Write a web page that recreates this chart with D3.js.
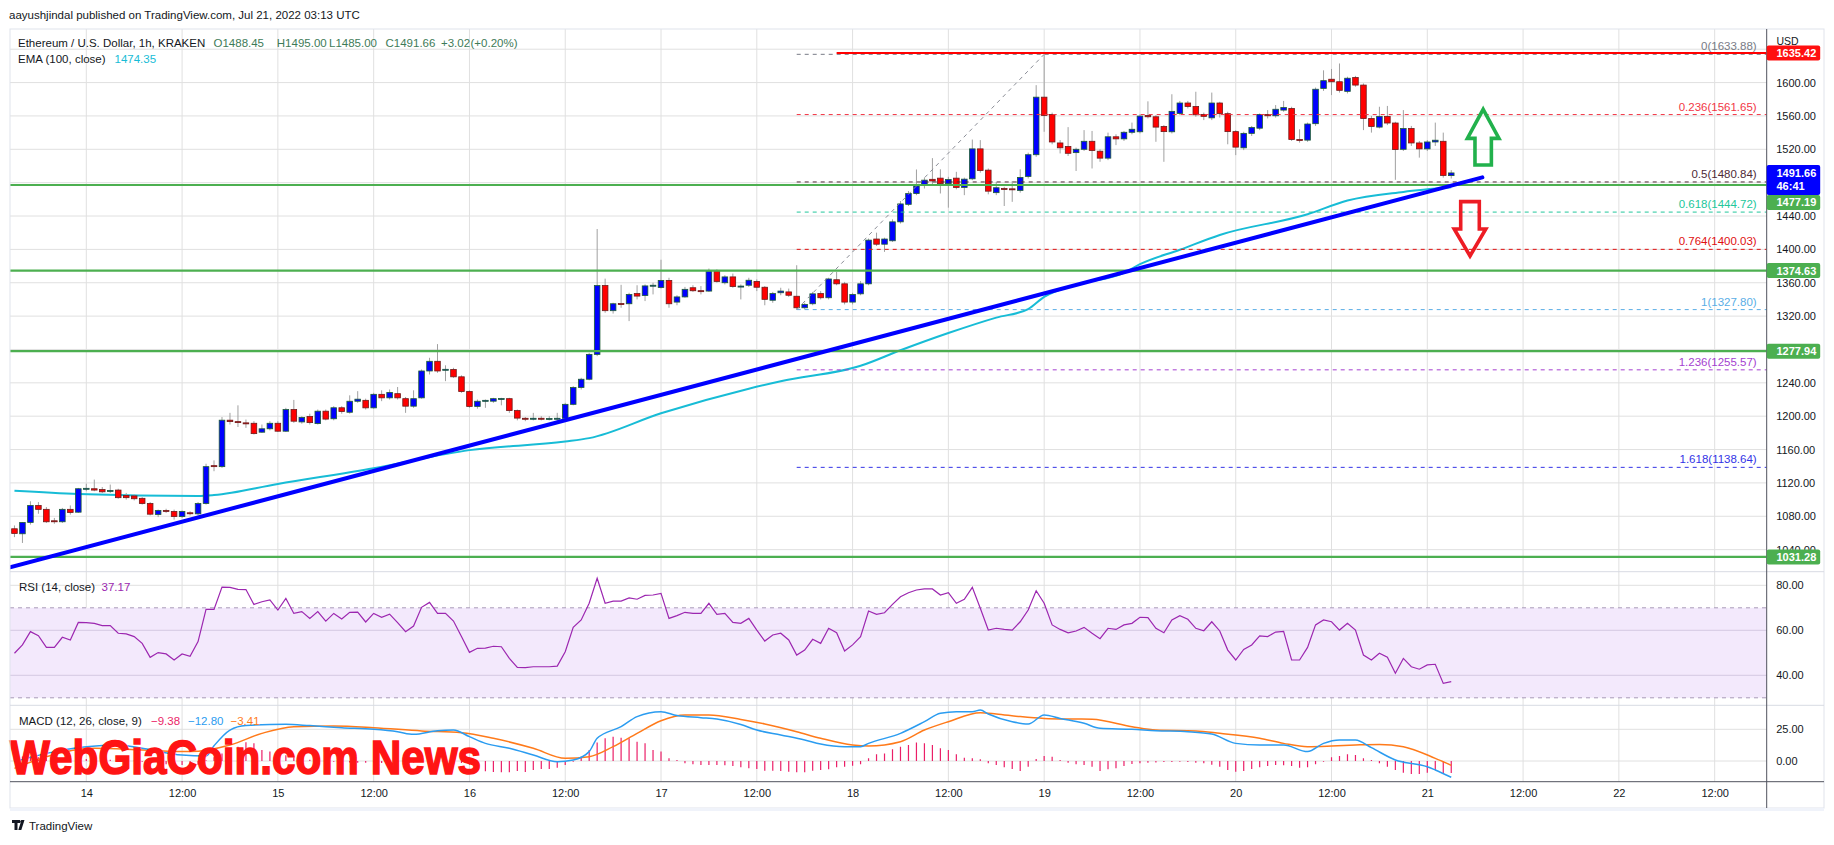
<!DOCTYPE html>
<html><head><meta charset="utf-8">
<script src="https://cdnjs.cloudflare.com/ajax/libs/d3/7.8.5/d3.min.js"></script>
<style>
body{margin:0;background:#fff}
svg{display:block}
text{font-family:"Liberation Sans",Arimo,Arial,sans-serif}
</style>
</head><body>
<svg id="c" width="1834" height="845"></svg>
<script>
// ---------------- DATA ----------------
// hourly candles, first one = 2022-07-13 15:00 UTC
const candleStartUTC = [2022, 6, 13, 15];
const opens = [
1065,1059,1072.6,1093,1088.3,1074.6,1073.4,1088.3,1084.9,1113,
1113,1112,1110,1111.4,1105,1104.4,1101.5,1095.3,1082.1,1087,
1085.8,1079.6,1084.2,1082.9,1095.3,1140.7,1139.5,1195.2,1193.5,1192,
1191.5,1180.8,1184.9,1191.5,1182,1208,1193.1,1199.7,1191.1,1206,
1196.9,1210.1,1204.7,1217.9,1219,1210,1226.2,1222,1227,1221,
1212,1222,1254.2,1265.8,1256,1256,1247.2,1229.5,1211.7,1218,
1218,1221,1221,1206.7,1197.5,1197,1197.5,1197,1197.3,1197.5,
1214.2,1234.4,1244.3,1274.1,1356.6,1326.5,1335,1334.8,1347,1344.6,
1356.2,1354.2,1362.8,1336.8,1343,1354,1350.5,1350,1374,1360,
1367,1355,1357,1361.6,1354.6,1339,1348,1349,1343.8,1330,
1334.8,1347,1342,1363.6,1358.7,1336.8,1346.7,1358.7,1412.4,1406.2,
1410.3,1433,1454,1466.9,1477.2,1484,1485.4,1478.8,1485.4,1474.3,
1484.6,1520.5,1495,1468,1473,1472.6,1470.6,1487.5,1513.5,1582.5,
1561.8,1527.6,1523.4,1516,1520,1529.6,1517.7,1509.4,1535,1532.5,
1540.4,1541,1560.6,1559,1547.4,1541,1563,1575.5,1571.3,1561.8,
1557.7,1575.5,1562.7,1541.2,1521.8,1539.1,1545.3,1561.8,1560.2,1567,
1568.9,1531.7,1531,1550.7,1593,1604,1601,1589.5,1606,1597,
1556.9,1546.6,1559.4,1551.5,1520,1544.9,1527.6,1520.5,1528.8,1529.6,1488.45];
const highs = [
1069,1073,1098,1097,1091,1078,1090,1093,1114,1119,
1124,1115,1118,1113,1108,1106,1103,1097,1088,1089,
1088,1087,1086,1097,1143,1147,1199,1204,1213,1196,
1194,1190,1194,1194,1210,1219.5,1200,1203,1208,1208,
1212,1212,1225,1230,1221,1228,1231,1232,1235,1223,
1231,1256,1270,1286.4,1261,1258,1249,1231,1220,1220,
1222,1222,1222,1208,1199,1204,1200,1200,1204,1216,
1236,1246,1276,1424.4,1364.9,1336,1357.5,1348,1357,1358,
1360,1387.6,1366,1345,1355,1357,1356,1377,1376,1369,
1371,1358,1366,1364,1356,1349,1354,1353,1381,1336,
1349,1350,1366,1373,1361,1348,1362,1413,1420,1414,
1436,1458,1470,1495.8,1486,1509.4,1496,1487,1493,1486,
1531.7,1531,1497,1481,1475,1482,1496,1516,1596.9,1633.88,
1564,1531,1546.6,1522,1543,1542,1520,1540,1538,1542,
1552,1562,1577.5,1561,1549,1586,1578,1578,1589,1564,
1588,1577,1565,1543,1541,1548,1563,1567,1573,1578,
1571,1544,1552,1594,1614.7,1616.3,1622.9,1607,1608,1599,
1560,1571,1572,1553,1567,1548,1530,1531,1552,1540,1495];
const lows = [
1055,1048,1070,1083,1072,1071,1072,1082,1084,1110,
1110,1108,1108,1101,1100,1099,1094,1081,1079,1084,
1076,1078,1081,1081,1094,1134,1138,1190,1187,1186,
1178,1180,1183,1181,1181,1192,1191,1190,1190,1195,
1195,1203,1203,1216,1208,1209,1218,1220,1220,1204,
1210,1221,1250,1252,1242,1246,1228,1210,1209,1210,
1216,1213,1204,1195,1194,1195,1195,1195,1194,1196,
1213,1232,1243,1272,1324,1323,1330,1314,1340,1338,
1346,1353,1330,1333,1342,1349,1346,1349,1360,1358,
1354,1340,1355,1350,1333,1336,1345,1343,1327.8,1328,
1333,1340,1340,1357,1334,1334,1345,1357,1404,1397,
1409,1431,1452,1465,1473,1478,1467,1450,1472,1465,
1483,1492,1466,1465,1452,1457,1468,1485,1511,1541,
1526,1515,1512,1494,1518,1497,1505,1507,1525,1530,
1538,1539,1557,1529,1505,1539,1561,1569,1559,1555,
1555,1558,1526,1513,1519,1536,1543,1557,1558,1565,
1530,1528,1529,1548,1590,1585,1588,1587,1595,1543,
1540,1545,1549,1483.4,1518,1524,1510,1518,1524,1486,1485];
const closes = [
1059.4,1072.6,1093,1088.3,1073.4,1073.5,1088.3,1084.5,1113,1113.5,
1111.4,1109.3,1111,1102.3,1102.3,1101,1095.3,1082.5,1087,1086,
1079.6,1085.8,1083.4,1095.3,1139.5,1139.8,1195.2,1193.5,1192.3,1191.9,
1179.1,1184.9,1191.5,1182,1208,1194,1198.5,1192.3,1206,1196.5,
1210.1,1205.5,1217.9,1220.4,1210,1226.2,1222,1228.5,1222,1212,
1221,1254.2,1265.8,1254.2,1256.2,1247.2,1229.5,1211.7,1217.9,1219,
1221,1221.2,1206.7,1197.7,1197,1197.5,1197,1197.3,1197.5,1214.2,
1234.4,1244.3,1274.1,1356.6,1326.5,1334.8,1334,1345.9,1344,1356.2,
1357,1362.8,1334.8,1343,1352.1,1350.4,1349.5,1374,1361.6,1367,
1355.4,1356,1363,1354.6,1340.1,1347,1350,1345,1330,1334,
1346.7,1342,1364.5,1358.7,1336.8,1345.9,1358.7,1411.1,1406.2,1412.4,
1433,1454.5,1466.9,1476,1483,1482,1478.8,1483.8,1474.3,1484.2,
1520.5,1494.5,1469.8,1473.9,1472.6,1471.8,1486.3,1513.5,1582.5,1560.6,
1528.8,1521.8,1515.2,1520,1529.6,1518.5,1509.4,1535,1532.5,1540.4,
1544,1559.8,1559,1546.6,1541.2,1565.5,1575.5,1571.3,1561.4,1559.5,
1575.5,1562.7,1541.2,1522.6,1539.1,1546.1,1561.8,1560.2,1568,1570,
1531.7,1531.3,1550.3,1592,1602.3,1601,1590.7,1605.2,1597,1556.9,
1547.4,1559.4,1551.5,1519.7,1544.9,1527.6,1520.5,1528.8,1530.9,1488.7,1491.66];

// EMA(100) read at sample candles (candle index)
const emaIdx    = [0,8,23,25,33,45,57,69,72,81,92,96,106,111,117,123,127,129,133,139,141,146,151,162,167,174,180];
const emaValues = [1110.6,1106.8,1104.4,1105.5,1118.8,1137.6,1159.3,1169.6,1173.7,1203.5,1233.0,1241.9,1260.4,1279.0,1299.7,1318.2,1328.5,1343.0,1357.5,1372.0,1382.2,1399.6,1417.3,1442.1,1458.6,1468.9,1474.35];

// RSI(14), one value per candle
const rsiValues = [
49.8,53.5,59.4,57.6,52.4,52.4,56.9,55.7,63.5,63.4,
63.1,62.1,62.1,58.7,58.4,57.2,54.2,48.0,50.1,49.5,
46.8,49.5,48.4,55.0,69.3,69.3,79.2,79.1,78.2,78.1,
71.5,72.7,73.5,69.0,74.2,67.5,68.3,65.3,68.3,64.1,
67.5,65.0,68.0,68.1,63.7,67.5,65.8,67.2,63.4,59.4,
61.9,70.2,72.4,67.5,67.5,64.1,57.2,50.2,52.0,52.1,
52.9,52.7,47.5,43.5,43.4,43.8,43.8,43.8,44.1,50.5,
61.3,64.6,72.0,83.1,72.0,73.0,73.0,74.4,73.8,75.5,
75.7,76.4,65.3,66.5,68.0,67.5,67.5,72.0,67.1,67.5,
63.5,63.1,65.3,60.1,55.2,57.9,58.7,55.7,49.0,51.2,
56.0,54.2,60.9,58.9,50.8,53.5,57.2,68.6,67.1,67.8,
71.5,74.9,76.7,77.9,78.4,78.4,75.7,76.7,72.0,73.8,
79.1,69.8,60.1,60.9,60.4,60.1,63.8,69.0,77.6,72.0,
62.4,60.4,58.9,59.7,61.3,58.7,56.3,60.9,60.4,62.4,
63.1,65.8,65.6,60.9,58.9,64.6,66.5,64.9,60.9,59.8,
63.8,59.7,51.2,46.8,51.5,53.5,57.5,57.2,59.2,59.5,
46.8,46.8,52.4,62.4,64.6,63.8,60.1,63.1,60.1,49.0,
46.8,49.8,48.0,40.9,47.5,43.8,42.7,44.6,44.9,36.4,37.17];

// MACD(12,26,9) lines read at sample candles
const macdIdx    = [0,4,9,13,16,21,24,25,27,29,34,37,41,45,48,50,53,55,57,59,62,65,68,70,72,73,76,78,81,83,86,88,91,93,96,99,101,104,106,107,111,114,116,118,120,121,122,125,127,129,131,134,136,140,143,147,150,153,156,159,162,164,166,168,170,173,177,178,180];
const macdValues = [-0.5,6.0,11.3,12.6,10.0,4.7,4.0,12.0,24.4,28.0,28.9,27.9,26.3,25.0,23.1,21.0,23.9,24.4,19.2,13.9,10.0,4.7,-0.5,0.8,7.4,17.9,27.1,35.0,38.9,35.8,34.2,33.1,28.8,24.4,20.5,16.6,13.4,11.3,11.3,13.9,21.8,31.0,37.6,38.9,38.9,40.2,37.1,31.0,29.2,36.3,33.6,29.7,25.8,25.0,23.9,23.1,21.3,13.9,12.6,12.6,7.4,13.9,16.6,16.6,10.5,0.8,-4.5,-7.1,-12.80];
const signalIdx    = [0,4,10,16,22,27,31,35,40,45,51,56,60,65,69,72,75,78,81,84,87,91,94,98,101,105,107,111,114,117,121,123,126,129,133,135,140,143,148,151,156,159,162,165,168,171,174,178,180];
const signalValues = [-5.8,3.4,10.0,8.7,7.4,12.6,21.8,27.1,27.6,26.3,23.7,22.3,17.9,10.0,2.1,3.4,11.3,21.8,31.8,36.3,36.3,32.8,29.2,23.1,17.9,12.6,11.8,15.2,24.4,31.0,38.1,37.1,35.0,33.6,33.1,32.9,27.1,24.4,23.7,21.8,17.9,13.9,11.3,11.8,12.6,13.1,11.3,2.1,-3.41];
const histValues = [
4.0,3.5,3.5,3.0,2.5,2.2,2.0,1.5,2.0,1.5,
1.5,1.2,1.0,0.8,0.5,0.2,-0.5,-1.5,-2.0,-2.5,
-3.0,-3.2,-3.5,-3.0,0.5,3.0,6.0,8.7,11.3,14.7,
13.9,8.7,7.4,5.5,4.5,3.0,2.0,1.0,0.5,0.0,
-0.5,-1.0,-1.2,-1.3,-1.3,-1.3,-1.5,-1.0,-1.0,-1.3,
-1.2,0.3,1.0,0.8,1.0,0.3,-1.5,-3.0,-6.5,-8.0,
-8.7,-8.9,-8.9,-7.9,-8.7,-7.1,-6.3,-6.3,-5.3,-3.2,
-0.5,3.4,8.7,14.5,17.9,19.2,18.4,17.9,15.2,13.9,
8.7,7.4,2.1,0.8,-1.8,-2.6,-3.2,-3.2,-3.2,-3.4,
-3.9,-5.0,-5.8,-6.3,-7.6,-7.6,-7.9,-8.4,-8.9,-8.9,
-7.6,-7.1,-6.6,-5.0,-4.5,-3.7,-2.6,2.1,5.3,6.0,
9.2,11.3,12.6,14.5,13.9,12.6,10.0,8.7,5.3,2.6,
2.1,1.3,-1.8,-3.2,-5.0,-6.3,-7.9,-4.5,1.6,3.9,
3.4,0.8,-1.3,-2.6,-3.2,-4.5,-7.9,-6.6,-5.8,-3.9,
-2.4,-1.8,-1.3,-1.1,-0.8,-0.8,-0.5,-0.8,-1.3,-1.8,
-2.9,-4.5,-7.1,-8.4,-7.9,-6.3,-5.0,-3.9,-3.2,-3.4,
-3.9,-5.3,-5.0,-2.6,-0.5,2.9,3.9,5.3,4.7,2.1,
0.8,-1.8,-4.5,-7.1,-9.2,-10.3,-10.3,-9.2,-7.1,-9.7,-9.38];

// axis ticks (1480 sits under the last-price tag in the reference, so it is not shown)
const priceTicks = [1040,1080,1120,1160,1200,1240,1280,1320,1360,1400,1440,1520,1560,1600];
const priceGrid  = [1040,1080,1120,1160,1200,1240,1280,1320,1360,1400,1440,1480,1520,1560,1600,1640];
const rsiTicks = [40,60,80];
const rsiBand = [70,30];
const macdTicks = [0,25];

// drawings
const supportLevels = [1477.19,1374.63,1277.94,1031.28];
const resistanceLevels = [1635.42];
const resistanceStartIdx = 103;
const fibRatios = ["0","0.236","0.5","0.618","0.764","1","1.236","1.618"];
const fibPrices = [1633.88,1561.65,1480.84,1444.72,1400.03,1327.80,1255.57,1138.64];
const fibColors = ["#787b86","#f23645","#4e2a36","#22c79b","#e01010","#5aaee6","#a43fd0","#3333e6"];
const fibAnchorIdx = [98,129];
const trendIdx = [-0.56,183.9];
const trendPrices = [1018.9,1486.3];
const arrowIdx = [184.0,182.35];
const arrowBase = [1501.2,1457.2];
const arrowTip = [1567.9,1392.1];
const arrowColors = ["#22b14c","#ed1c24"];
const lastPrice = 1491.66, countdown = "46:41";

// ---------------- DRAWING ----------------
const svg = d3.select("#c");
const FONT = '"Liberation Sans",Arimo,Arial,sans-serif';
const T0 = Date.UTC(...candleStartUTC);
const tAt = i => new Date(T0 + i*3600e3);
const L=10, R=1766.7, FR=1824, mainTop=29, mainBot=571.7, rsiBot=705.3, macdBot=781.7, axisBot=808;

const x = d3.scaleUtc().domain([new Date(Date.UTC(2022,6,14)), new Date(Date.UTC(2022,6,21))]).range([86.3,1427.3]);
const y = d3.scaleLinear().domain([1031.28,1477.19]).range([556.9,185.0]);
const yR = d3.scaleLinear().domain([40,80]).range([675.3,585.3]);
const yM = d3.scaleLinear().domain([0,25]).range([761,729.3]);

const defs = svg.append("defs");
function clip(id,y0,y1){defs.append("clipPath").attr("id",id).append("rect").attr("x",L).attr("y",y0).attr("width",R-L).attr("height",y1-y0);}
clip("cMain",mainTop,mainBot); clip("cRsi",mainBot,rsiBot); clip("cMacd",rsiBot,macdBot);

svg.append("rect").attr("width",1834).attr("height",845).attr("fill","#fff");

// header
svg.append("text").attr("x",9).attr("y",15).attr("dominant-baseline","central")
  .attr("font-size",11.5).attr("fill","#131722")
  .text("aayushjindal published on TradingView.com, Jul 21, 2022 03:13 UTC");

// time ticks
const timeTicks = d3.utcHour.range(new Date(Date.UTC(2022,6,14)), new Date(Date.UTC(2022,6,22,13)), 12);

// grid
const grid = svg.append("g").attr("stroke","#e0e0e0").attr("stroke-width",1);
grid.selectAll("line.v").data(timeTicks).join("line")
  .attr("x1",d=>x(d)).attr("x2",d=>x(d)).attr("y1",mainTop).attr("y2",macdBot);
grid.selectAll("line.h").data(priceGrid).join("line")
  .attr("x1",L).attr("x2",R).attr("y1",d=>y(d)).attr("y2",d=>y(d));

// RSI band
const rsiG = svg.append("g");
rsiG.append("rect").attr("x",L).attr("width",R-L).attr("y",yR(rsiBand[0])).attr("height",yR(rsiBand[1])-yR(rsiBand[0])).attr("fill","#f3e9fc");
rsiG.selectAll("line.g").data(rsiTicks).join("line").attr("x1",L).attr("x2",R)
  .attr("y1",d=>yR(d)).attr("y2",d=>yR(d)).attr("stroke",d=>d===80?"#e0e0e0":"#d4c8e2");
rsiG.selectAll("line.b").data(rsiBand).join("line").attr("x1",L).attr("x2",R)
  .attr("y1",d=>yR(d)).attr("y2",d=>yR(d)).attr("stroke","#a99bb8").attr("stroke-dasharray","4,4");
// MACD grid
svg.append("g").selectAll("line").data(macdTicks).join("line").attr("x1",L).attr("x2",R)
  .attr("y1",d=>yM(d)).attr("y2",d=>yM(d)).attr("stroke","#e0e0e0");

// ---- main pane
const main = svg.append("g").attr("clip-path","url(#cMain)");
// EMA
main.append("path").datum(emaIdx.map((d,i)=>[d,emaValues[i]]))
  .attr("d",d3.line().x(d=>x(tAt(d[0]))).y(d=>y(d[1])).curve(d3.curveMonotoneX))
  .attr("fill","none").attr("stroke","#17bcd6").attr("stroke-width",2);

// candles
const cw = 5.6;
const cg = main.append("g");
closes.forEach((c,i)=>{
  const o=opens[i], h=highs[i], l=lows[i], cx=x(tAt(i));
  const up = c>=o;
  cg.append("line").attr("x1",cx).attr("x2",cx).attr("y1",y(h)).attr("y2",y(l)).attr("stroke","#a0a0a0").attr("stroke-width",1);
  const top=y(Math.max(o,c)), bot=y(Math.min(o,c));
  cg.append("rect").attr("x",cx-cw/2).attr("y",top).attr("width",cw).attr("height",Math.max(1,bot-top))
    .attr("fill",up?"#0000ff":"#ff0000").attr("stroke",up?"#1d5e32":"#6e1b1b").attr("stroke-width",0.8);
});

// fib
const fx0 = x(tAt(fibAnchorIdx[0]));
const fib = main.append("g");
fib.selectAll("line").data(fibPrices).join("line").attr("x1",fx0).attr("x2",R)
  .attr("y1",d=>y(d)).attr("y2",d=>y(d)).attr("stroke",(d,i)=>fibColors[i]).attr("stroke-width",1).attr("stroke-dasharray","4,4");
fib.append("line").attr("x1",x(tAt(fibAnchorIdx[0]))).attr("y1",y(fibPrices[5]))
  .attr("x2",x(tAt(fibAnchorIdx[1]))).attr("y2",y(fibPrices[0]))
  .attr("stroke","#8a8d96").attr("stroke-width",1).attr("stroke-dasharray","4,4");

// horizontal levels
main.selectAll("line.sup").data(supportLevels).join("line").attr("class","sup")
  .attr("x1",L).attr("x2",R).attr("y1",d=>y(d)).attr("y2",d=>y(d)).attr("stroke","#4caf50").attr("stroke-width",2.2);
main.selectAll("line.res").data(resistanceLevels).join("line").attr("class","res")
  .attr("x1",x(tAt(resistanceStartIdx))).attr("x2",R).attr("y1",d=>y(d)).attr("y2",d=>y(d)).attr("stroke","#ff0000").attr("stroke-width",2);

// fib labels
fib.selectAll("text").data(fibPrices).join("text").attr("x",R-10).attr("y",d=>y(d)-4)
  .attr("text-anchor","end").attr("font-size",11.5).attr("fill",(d,i)=>fibColors[i])
  .text((d,i)=>`${fibRatios[i]}(${d.toFixed(2)})`);

// trend line
main.append("line").attr("x1",x(tAt(trendIdx[0]))).attr("y1",y(trendPrices[0]))
  .attr("x2",x(tAt(trendIdx[1]))).attr("y2",y(trendPrices[1]))
  .attr("stroke","#0000ff").attr("stroke-width",4).attr("stroke-linecap","round");

// arrows
arrowIdx.forEach((a,i)=>{
  const cx=x(tAt(a)), yb=y(arrowBase[i]), yt=y(arrowTip[i]);
  const dir = yt<yb ? -1 : 1;
  const headLen = i===0?29:27, hw = 15.8, sw = i===0?8.2:9.3;
  const yh = yt - dir*headLen;
  const pts=[[cx,yt],[cx+hw,yh],[cx+sw,yh],[cx+sw,yb],[cx-sw,yb],[cx-sw,yh],[cx-hw,yh]];
  main.append("polygon").attr("points",pts.map(p=>p.join(",")).join(" "))
    .attr("fill","none").attr("stroke",arrowColors[i]).attr("stroke-width",3.6).attr("stroke-linejoin","miter");
});

// legend
const lg = svg.append("g").attr("font-size",11.5);
lg.append("text").attr("x",18).attr("y",42.5).attr("dominant-baseline","central").attr("fill","#131722").text("Ethereum / U.S. Dollar, 1h, KRAKEN");
const ohlc = [["O"+opens[180].toFixed(2),213.5],["H"+highs[180].toFixed(2),276.8],["L"+lows[180].toFixed(2),329],["C"+closes[180].toFixed(2),385.5],["+3.02",441],["(+0.20%)",470.5]];
lg.selectAll("text.v").data(ohlc).join("text").attr("x",d=>d[1]).attr("y",42.5).attr("dominant-baseline","central").attr("fill","#3e7b58").text(d=>d[0]);
lg.append("text").attr("x",18).attr("y",58.5).attr("dominant-baseline","central").attr("fill","#131722").text("EMA (100, close)");
lg.append("text").attr("x",114.5).attr("y",58.5).attr("dominant-baseline","central").attr("fill","#17bcd6").text(emaValues[emaValues.length-1].toFixed(2));

// ---- RSI
svg.append("g").attr("clip-path","url(#cRsi)").append("path").datum(rsiValues)
  .attr("d",d3.line().x((d,i)=>x(tAt(i))).y(d=>yR(d)))
  .attr("fill","none").attr("stroke","#9c27b0").attr("stroke-width",1.2);
svg.append("text").attr("x",19).attr("y",586.7).attr("dominant-baseline","central").attr("font-size",11.5).attr("fill","#131722").text("RSI (14, close)");
svg.append("text").attr("x",101.5).attr("y",586.7).attr("dominant-baseline","central").attr("font-size",11.5).attr("fill","#9c27b0").text(rsiValues[180].toFixed(2));

// ---- MACD
const mg = svg.append("g").attr("clip-path","url(#cMacd)");
mg.selectAll("line").data(histValues).join("line")
  .attr("x1",(d,i)=>x(tAt(i))).attr("x2",(d,i)=>x(tAt(i))).attr("y1",yM(0)).attr("y2",d=>yM(d))
  .attr("stroke","#eb1f68").attr("stroke-width",1.2);
mg.append("path").datum(signalIdx.map((d,i)=>[d,signalValues[i]]))
  .attr("d",d3.line().x(d=>x(tAt(d[0]))).y(d=>yM(d[1])).curve(d3.curveMonotoneX))
  .attr("fill","none").attr("stroke","#ff7a1a").attr("stroke-width",1.5);
mg.append("path").datum(macdIdx.map((d,i)=>[d,macdValues[i]]))
  .attr("d",d3.line().x(d=>x(tAt(d[0]))).y(d=>yM(d[1])).curve(d3.curveMonotoneX))
  .attr("fill","none").attr("stroke","#2b9cf0").attr("stroke-width",1.5);
const ml = svg.append("g").attr("font-size",11.5);
ml.append("text").attr("x",19).attr("y",721).attr("dominant-baseline","central").attr("fill","#131722").text("MACD (12, 26, close, 9)");
ml.append("text").attr("x",151).attr("y",721).attr("dominant-baseline","central").attr("fill","#eb1f68").text("\u2212"+Math.abs(histValues[180]).toFixed(2));
ml.append("text").attr("x",188).attr("y",721).attr("dominant-baseline","central").attr("fill","#2b9cf0").text("\u2212"+Math.abs(macdValues[macdValues.length-1]).toFixed(2));
ml.append("text").attr("x",230.5).attr("y",721).attr("dominant-baseline","central").attr("fill","#ff7a1a").text("\u2212"+Math.abs(signalValues[signalValues.length-1]).toFixed(2));

// watermark
svg.append("text").attr("x",10).attr("y",774).attr("font-family",'"Liberation Sans Narrow","DejaVu Sans Condensed","Liberation Sans",sans-serif')
  .attr("font-weight","bold").attr("font-size",48).attr("fill","#ff1414").attr("stroke","#ff1414").attr("stroke-width",1.6)
  .attr("textLength",471).attr("lengthAdjust","spacingAndGlyphs").text("WebGiaCoin.com News");

// ---- frame, separators, axes
svg.append("rect").attr("x",L).attr("y",mainTop).attr("width",FR-L).attr("height",axisBot-mainTop).attr("fill","none").attr("stroke","#e0e3eb");
svg.append("rect").attr("x",L).attr("y",axisBot).attr("width",FR-L).attr("height",3).attr("fill","#f0f3fa");
[mainBot,rsiBot].forEach(v=>svg.append("line").attr("x1",L).attr("x2",FR).attr("y1",v).attr("y2",v).attr("stroke","#d8dbe3"));
svg.append("line").attr("x1",R).attr("x2",R).attr("y1",mainTop).attr("y2",axisBot).attr("stroke","#50535e");
svg.append("line").attr("x1",L).attr("x2",FR).attr("y1",macdBot).attr("y2",macdBot).attr("stroke","#50535e");

// price axis
const pa = svg.append("g").attr("transform",`translate(${R},0)`)
  .call(d3.axisRight(y).tickValues(priceTicks).tickSize(0).tickPadding(9.5).tickFormat(d3.format(".2f")));
const ra = svg.append("g").attr("transform",`translate(${R},0)`)
  .call(d3.axisRight(yR).tickValues(rsiTicks).tickSize(0).tickPadding(9.5).tickFormat(d3.format(".2f")));
const ma = svg.append("g").attr("transform",`translate(${R},0)`)
  .call(d3.axisRight(yM).tickValues(macdTicks).tickSize(0).tickPadding(9.5).tickFormat(d3.format(".2f")));
const ta = svg.append("g").attr("transform",`translate(0,${macdBot})`)
  .call(d3.axisBottom(x).tickValues(timeTicks).tickSize(0).tickPadding(8)
    .tickFormat(d=>d.getUTCHours()===0 ? String(d.getUTCDate()) : "12:00"));
[pa,ra,ma,ta].forEach(g=>{g.select(".domain").remove();g.selectAll("text").attr("font-family",FONT).attr("font-size",11).attr("fill","#131722");});
svg.append("text").attr("x",1776.5).attr("y",40.7).attr("dominant-baseline","central").attr("font-size",10.5).attr("fill","#131722").text("USD");

// price labels on axis
function tag(val,color,cy,extra){
  const h = extra?30:15;
  const top = extra? cy-8 : cy-7.5;
  svg.append("rect").attr("x",R).attr("y",top).attr("width",53.5).attr("height",h).attr("rx",2).attr("fill",color);
  svg.append("text").attr("x",1776.5).attr("y",cy).attr("dominant-baseline","central").attr("font-size",11).attr("font-weight","bold").attr("fill","#fff").text(val.toFixed(2));
  if(extra) svg.append("text").attr("x",1776.5).attr("y",cy+13).attr("dominant-baseline","central").attr("font-size",11).attr("font-weight","bold").attr("fill","#fff").text(extra);
  return top+h;
}
tag(resistanceLevels[0],"#ff1010",y(resistanceLevels[0]));
const blueBottom = tag(lastPrice,"#0000ff",y(lastPrice),countdown);
supportLevels.forEach(v=>{
  let cy=y(v);
  if (cy-7.5 < blueBottom && cy > y(lastPrice)-8) cy = blueBottom+7.5;
  tag(v,"#4caf50",cy);
});

// TradingView footer
const tv = svg.append("g").attr("fill","#131722");
tv.append("path").attr("d","M12 820h8v3h-2.5v7h-3v-7H12z M21.5 820h3l-3.2 10h-3z");
tv.append("circle").attr("cx",21.8).attr("cy",821.6).attr("r",1.6);
tv.append("text").attr("x",29).attr("y",826).attr("dominant-baseline","central").attr("font-size",11.5).attr("fill","#131722").text("TradingView");
</script>
</body></html>
